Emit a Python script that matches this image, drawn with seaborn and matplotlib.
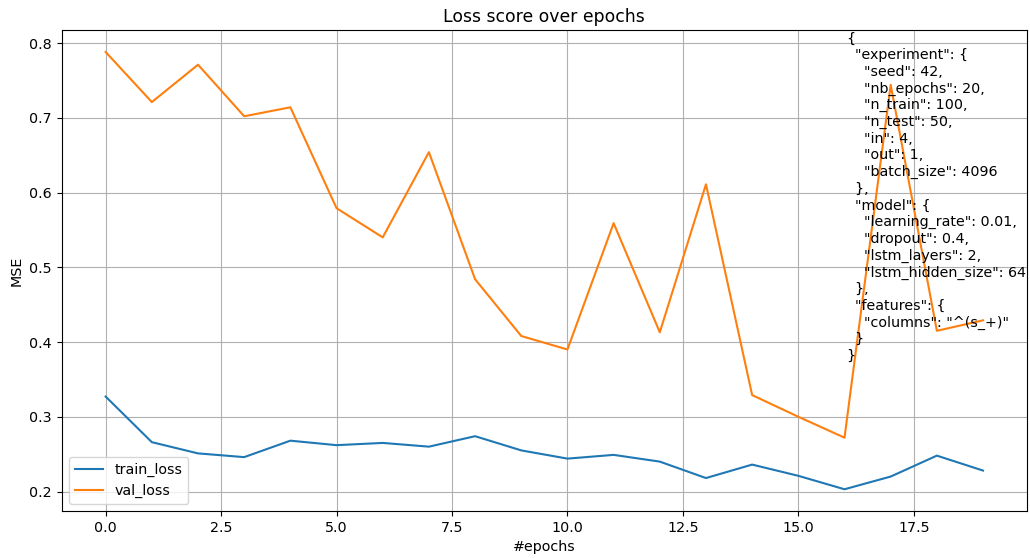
import json
import matplotlib
matplotlib.use("Agg")
import matplotlib.pyplot as plt
import seaborn as sns
import pandas as pd

epochs = list(range(20))
train_loss = [0.327, 0.266, 0.251, 0.246, 0.268, 0.262, 0.265, 0.260, 0.274, 0.255,
              0.244, 0.249, 0.240, 0.218, 0.236, 0.221, 0.203, 0.220, 0.248, 0.228]
val_loss = [0.788, 0.721, 0.771, 0.702, 0.714, 0.579, 0.540, 0.654, 0.484, 0.408,
            0.390, 0.559, 0.413, 0.611, 0.329, 0.300, 0.272, 0.744, 0.415, 0.429]

config = {
    "experiment": {
        "seed": 42,
        "nb_epochs": 20,
        "n_train": 100,
        "n_test": 50,
        "in": 4,
        "out": 1,
        "batch_size": 4096,
    },
    "model": {
        "learning_rate": 0.01,
        "dropout": 0.4,
        "lstm_layers": 2,
        "lstm_hidden_size": 64,
    },
    "features": {
        "columns": "^(s_+)",
    },
}

plt.rcParams["font.size"] = 10.3

df = pd.DataFrame({"epoch": epochs, "train_loss": train_loss, "val_loss": val_loss})
long = df.melt(id_vars="epoch", var_name="series", value_name="loss")

fig = plt.figure(figsize=(10.3, 5.58), dpi=100)
ax = fig.add_axes([0.060, 0.084, 0.937, 0.862])

sns.lineplot(data=long, x="epoch", y="loss", hue="series", ax=ax,
             palette=["#1f77b4", "#ff7f0e"], linewidth=1.5)

ax.grid(True, color="#b0b0b0", linewidth=0.8)
ax.set_axisbelow(True)
ax.set_title("Loss score over epochs", fontsize=12.4)
ax.set_xlabel("#epochs")
ax.set_ylabel("MSE")
ax.set_yticks([0.2, 0.3, 0.4, 0.5, 0.6, 0.7, 0.8])
ax.legend(loc="lower left")

ax.text(0.8124, 0.997, json.dumps(config, indent=2), transform=ax.transAxes,
        va="top", ha="left", fontsize=10.3, linespacing=1.24)

fig.savefig("out.png", dpi=100)
